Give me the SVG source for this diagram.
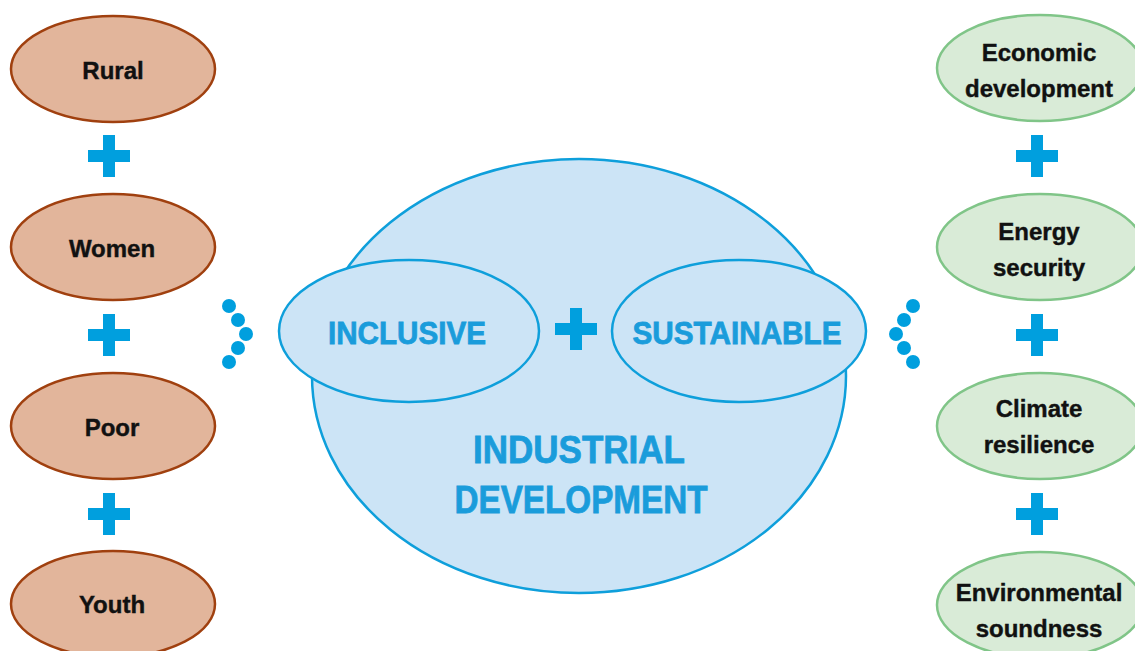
<svg xmlns="http://www.w3.org/2000/svg" width="1135" height="651" viewBox="0 0 1135 651">
<style>
.bg{fill:#ffffff}
.brown ellipse{fill:#E2B59B;stroke:#A0400F;stroke-width:2.5}
.green ellipse{fill:#D9EBD7;stroke:#80C588;stroke-width:2.5}
.blue{fill:#CCE4F6;stroke:#0E9FDB;stroke-width:2.5}
.lbl{font-family:"Liberation Sans",Arial,sans-serif;font-weight:bold;font-size:24px;fill:#111111;stroke:#111111;stroke-width:0.4;text-anchor:middle}
.big{font-family:"Liberation Sans",Arial,sans-serif;font-weight:bold;fill:#1A9CDB;stroke:#1A9CDB;stroke-width:0.8;text-anchor:middle}
.plus{fill:#009FDE}
.dot{fill:#009FDE}
</style>
<defs>
<path id="plus" d="M-6,-21 h12 v15 h15 v12 h-15 v15 h-12 v-15 h-15 v-12 h15 z"/>
</defs>
<rect class="bg" x="0" y="0" width="1135" height="651"/>

<g id="industrial-development">
<ellipse class="blue" cx="579" cy="376" rx="267" ry="217"/>
<text class="big" x="579" y="463" font-size="38" textLength="212" lengthAdjust="spacingAndGlyphs">INDUSTRIAL</text>
<text class="big" x="581" y="513" font-size="38" textLength="253" lengthAdjust="spacingAndGlyphs">DEVELOPMENT</text>
</g>

<g id="inclusive">
<ellipse class="blue" cx="409" cy="331" rx="130" ry="71"/>
<text class="big" x="407" y="344" font-size="32" textLength="158" lengthAdjust="spacingAndGlyphs">INCLUSIVE</text>
</g>

<g id="sustainable">
<ellipse class="blue" cx="739" cy="331" rx="127" ry="71"/>
<text class="big" x="737" y="344" font-size="32" textLength="209" lengthAdjust="spacingAndGlyphs">SUSTAINABLE</text>
</g>

<g id="rural" class="brown">
<ellipse cx="113" cy="69" rx="102" ry="53"/>
<text class="lbl" x="113" y="79">Rural</text>
</g>
<g id="women" class="brown">
<ellipse cx="113" cy="247" rx="102" ry="53"/>
<text class="lbl" x="112" y="257">Women</text>
</g>
<g id="poor" class="brown">
<ellipse cx="113" cy="426" rx="102" ry="53"/>
<text class="lbl" x="112" y="436">Poor</text>
</g>
<g id="youth" class="brown">
<ellipse cx="113" cy="604" rx="102" ry="53"/>
<text class="lbl" x="112" y="613">Youth</text>
</g>

<g id="economic-development" class="green">
<ellipse cx="1040" cy="68" rx="103" ry="53"/>
<text class="lbl" x="1039" y="61">Economic</text>
<text class="lbl" x="1039" y="97">development</text>
</g>
<g id="energy-security" class="green">
<ellipse cx="1040" cy="247" rx="103" ry="53"/>
<text class="lbl" x="1039" y="240">Energy</text>
<text class="lbl" x="1039" y="276">security</text>
</g>
<g id="climate-resilience" class="green">
<ellipse cx="1040" cy="426" rx="103" ry="53"/>
<text class="lbl" x="1039" y="417">Climate</text>
<text class="lbl" x="1039" y="453">resilience</text>
</g>
<g id="environmental-soundness" class="green">
<ellipse cx="1040" cy="605" rx="103" ry="53"/>
<text class="lbl" x="1039" y="601">Environmental</text>
<text class="lbl" x="1039" y="637">soundness</text>
</g>

<g id="connectors">
<use href="#plus" class="plus" x="109" y="156"/>
<use href="#plus" class="plus" x="109" y="335"/>
<use href="#plus" class="plus" x="109" y="514"/>
<use href="#plus" class="plus" x="1037" y="156"/>
<use href="#plus" class="plus" x="1037" y="335"/>
<use href="#plus" class="plus" x="1037" y="514"/>
<use href="#plus" class="plus" x="576" y="329"/>
<circle class="dot" cx="229" cy="306" r="7"/>
<circle class="dot" cx="238" cy="320" r="7"/>
<circle class="dot" cx="246" cy="334" r="7"/>
<circle class="dot" cx="238" cy="348" r="7"/>
<circle class="dot" cx="229" cy="362" r="7"/>
<circle class="dot" cx="913" cy="306" r="7"/>
<circle class="dot" cx="904" cy="320" r="7"/>
<circle class="dot" cx="896" cy="334" r="7"/>
<circle class="dot" cx="904" cy="348" r="7"/>
<circle class="dot" cx="913" cy="362" r="7"/>
</g>
</svg>
